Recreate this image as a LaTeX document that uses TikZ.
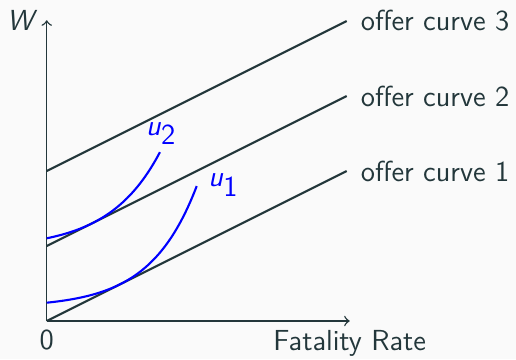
\documentclass[tikz,border=0pt]{standalone}
\usepackage{tikz}
\definecolor{mDark}{HTML}{23373B}
\definecolor{mBg}{HTML}{FAFAFA}
\begin{document}
\begin{tikzpicture}[
  font=\sffamily\fontsize{11}{13}\selectfont,
  axis/.style={draw=mDark, line width=0.55pt, -to},
  offer/.style={draw=mDark, line width=0.8pt},
  ucurve/.style={draw=blue, line width=0.8pt},
  lbl/.style={text=mDark},
  olbl/.style={text=mDark, anchor=west, xshift=1.8pt},
  ulbl/.style={text=blue}
]
\fill[mBg] (-0.623,-0.507) rectangle (6.257,4.28);
\useasboundingbox (-0.623,-0.507) rectangle (6.257,4.28);
% axes
\coordinate (O) at (0,0);
\coordinate (ytop) at (0,4.01);
\coordinate (xend) at (4.04,0);
\draw[axis] (O) -- (ytop);
\draw[axis] (O) -- (xend);
\node[lbl, left] (W) at (ytop) {\textit{W}};
\node[lbl, below] (zero) at (O) {0};
\node[lbl, below] (fr) at (xend) {Fatality Rate};
% offer curves
\coordinate (a1) at (0,0);   \coordinate (b1) at (4,2);
\coordinate (a2) at (0,1);   \coordinate (b2) at (4,3);
\coordinate (a3) at (0,2);   \coordinate (b3) at (4,4);
\draw[offer] (a1) -- (b1);
\draw[offer] (a2) -- (b2);
\draw[offer] (a3) -- (b3);
\node[olbl] (oc1) at (b1) {offer curve 1};
\node[olbl] (oc2) at (b2) {offer curve 2};
\node[olbl] (oc3) at (b3) {offer curve 3};
% indifference curves
\draw[ucurve] plot[domain=0:2, samples=80] (\x, {0.1806+0.0634*exp(1.62*\x)});
\draw[ucurve] plot[domain=0:1.51, samples=80] (\x, {0.965+0.1378*exp(1.48*\x)});
\node[ulbl] (u1) at (2.36,1.81) {$\textsf{\textit{u}}_{\textsf{1}}$};
\node[ulbl] (u2) at (1.53,2.5) {$\textsf{\textit{u}}_{\textsf{2}}$};
\end{tikzpicture}
\end{document}
